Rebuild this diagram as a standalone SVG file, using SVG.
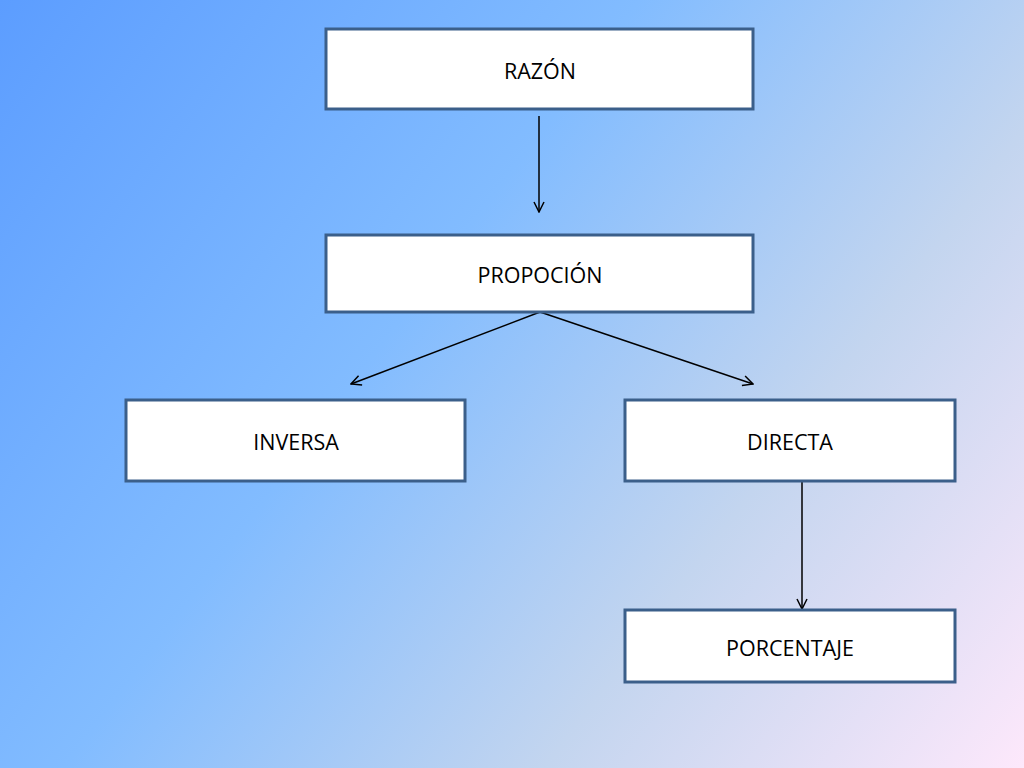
<svg xmlns="http://www.w3.org/2000/svg" width="1024" height="768" viewBox="0 0 1024 768">
<defs>
<linearGradient id="bg" x1="0" y1="0" x2="1024" y2="768" gradientUnits="userSpaceOnUse">
<stop offset="0" stop-color="#5c9dff"/>
<stop offset="0.4" stop-color="#82bcff"/>
<stop offset="0.7" stop-color="#c3d5ef"/>
<stop offset="1" stop-color="#fde8fb"/>
</linearGradient>
<marker id="arr" viewBox="0 0 12 12" refX="11" refY="6" markerWidth="12" markerHeight="12" markerUnits="userSpaceOnUse" orient="auto">
<path d="M1,1 L11,6 L1,11" fill="none" stroke="#000" stroke-width="1.5"/>
</marker>
<style>
.box{fill:#fff;stroke:#3b5f8a;stroke-width:3}
.lbl{font-family:"Open Sans","Noto Sans",sans-serif;font-size:21.5px;fill:#000;text-anchor:middle;dominant-baseline:central}
.con{stroke:#000;stroke-width:1.5;fill:none;marker-end:url(#arr)}
</style>
</defs>
<rect width="1024" height="768" fill="url(#bg)"/>
<g id="connectors">
<line class="con" x1="539" y1="116" x2="539" y2="212"/>
<line class="con" x1="540" y1="312" x2="351" y2="384"/>
<line class="con" x1="540" y1="312" x2="753" y2="384"/>
<line class="con" x1="802" y1="481" x2="802" y2="609"/>
</g>
<g id="razon"><rect class="box" x="326" y="29" width="427" height="80"/><text class="lbl" x="540" y="70">RAZÓN</text></g>
<g id="propocion"><rect class="box" x="326" y="235" width="427" height="77"/><text class="lbl" x="540" y="274">PROPOCIÓN</text></g>
<g id="inversa"><rect class="box" x="126" y="400" width="339" height="81"/><text class="lbl" x="296" y="441">INVERSA</text></g>
<g id="directa"><rect class="box" x="625" y="400" width="330" height="81"/><text class="lbl" x="790" y="441">DIRECTA</text></g>
<g id="porcentaje"><rect class="box" x="625" y="610" width="330" height="72"/><text class="lbl" x="790" y="647">PORCENTAJE</text></g>
</svg>
